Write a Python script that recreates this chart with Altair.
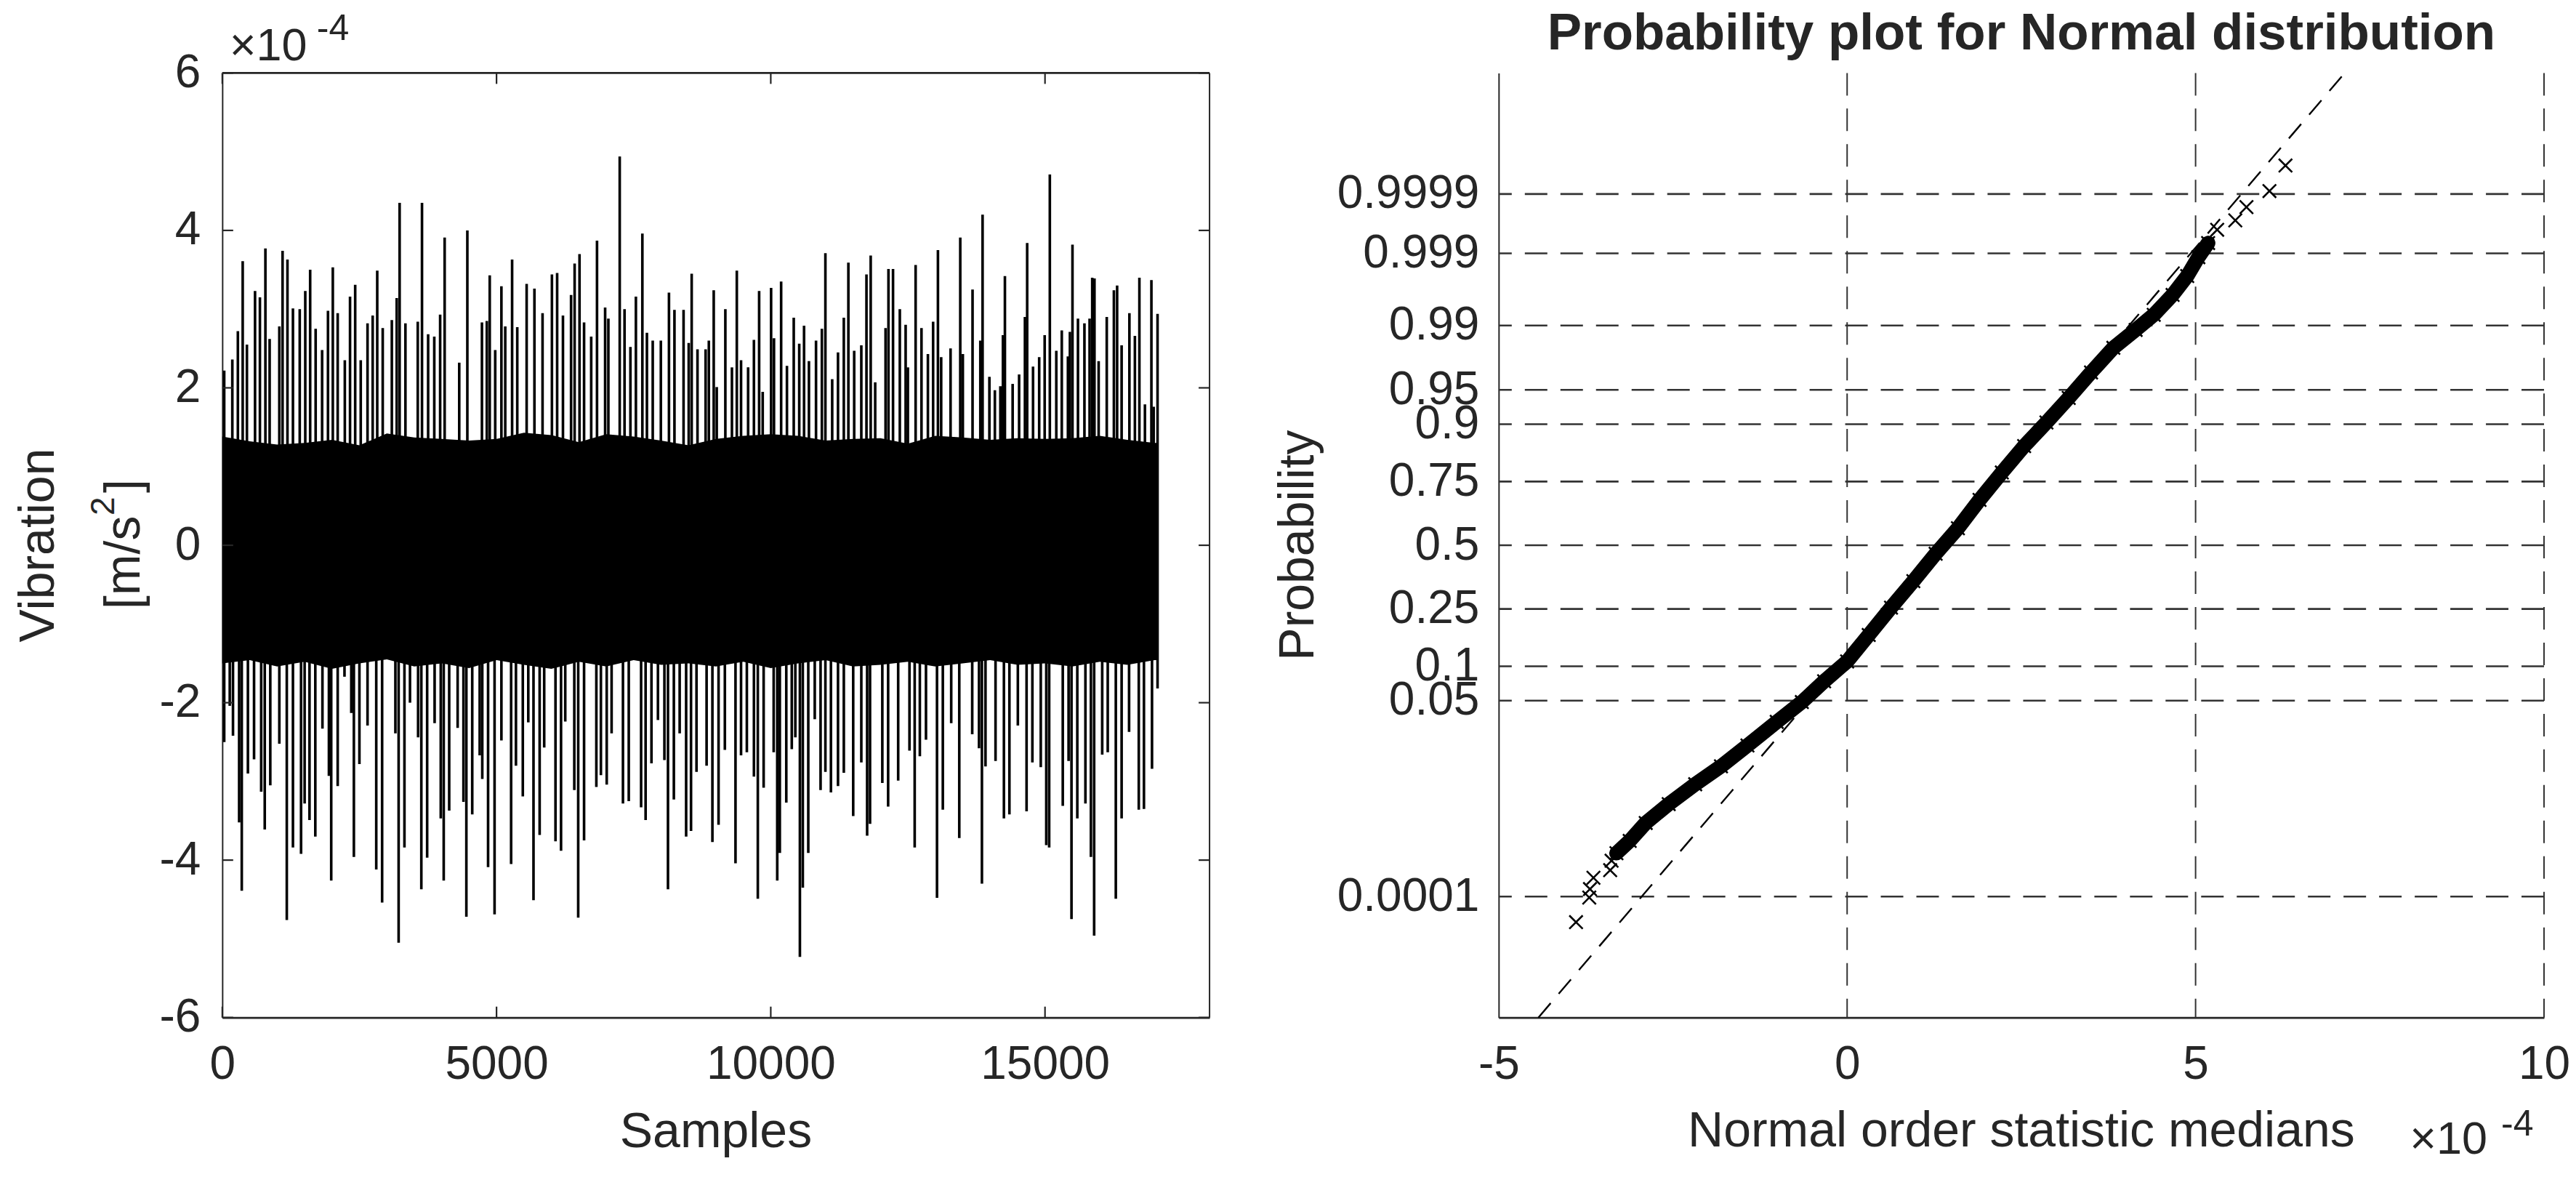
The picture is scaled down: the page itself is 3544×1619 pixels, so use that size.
import altair as alt
import pandas as pd
from statistics import NormalDist

# ---------------- data: left panel (vibration signal, units of 1e-4 m/s^2) ----------------
sig_up_s = [35, 183, 284, 372, 449, 597, 686, 786, 863, 1040,
            1099, 1188, 1288, 1412, 1513, 1602, 1702, 1820, 1927, 2015,
            2104, 2234, 2329, 2423, 2524, 2648, 2742, 2825, 2925, 3091,
            3180, 3233, 3339, 3564, 3641, 3753, 3865, 3972, 4054, 4320,
            4468, 4734, 4823, 4876, 4976, 5089, 5159, 5284, 5378, 5549,
            5691, 5839, 6010, 6105, 6211, 6359, 6424, 6513, 6596, 6726,
            6832, 6980, 7039, 7246, 7334, 7441, 7541, 7659, 7742, 7848,
            7996, 8144, 8244, 8410, 8504, 8558, 8664, 8812, 8871, 8960,
            9172,
            9015, 9292, 9381, 9458, 9587, 9693, 9788, 9853, 10006, 10059,
            10189, 10295, 10419, 10519, 10607, 10696, 10825, 10932, 10996, 11120,
            11226, 11332, 11415, 11521, 11651, 11745, 11822, 11904, 12093, 12146,
            12229, 12353, 12459, 12500, 12641, 12748, 12865, 12960, 13048, 13107,
            13278, 13455, 13502, 13679, 13821, 13862, 13986, 14086, 14186, 14233,
            14269, 14410, 14528, 14634, 14675, 14782, 14894, 14994, 15088, 15206,
            15306, 15418, 15454, 15501, 15601, 15719, 15813, 15861, 15902, 15978,
            16126, 16256, 16315, 16397, 16539, 16639, 16721, 16822, 16940, 16981,
            17052]
sig_up_v = [2.22, 2.36, 2.72, 3.61, 2.55, 3.23, 3.15, 3.77, 2.62, 2.78,
            3.74, 3.63, 3.01, 3.00, 3.23, 3.50, 2.75, 2.48, 2.98, 3.53,
            2.95, 2.35, 3.16, 3.31, 2.35, 2.82, 2.92, 3.49, 2.76, 2.86,
            3.14, 4.35, 2.82, 2.84, 4.35, 2.68, 2.65, 2.93, 3.91, 2.32,
            4.00, 2.83, 2.85, 3.43, 2.48, 3.29, 2.78, 3.63, 2.77, 3.32,
            3.26, 2.95, 3.44, 3.46, 2.92, 3.18, 3.58, 3.70, 2.83, 2.65,
            3.87, 3.02, 2.88, 4.94, 3.00, 2.52, 3.16, 3.96, 2.70, 2.60,
            2.60, 3.21, 2.99, 2.99, 2.57, 3.45, 2.49, 2.49, 2.60, 3.24,
            3.00,
            2.01, 2.26, 3.49, 2.35, 2.26, 2.61, 3.23, 1.95, 3.27, 2.63,
            3.35, 2.28, 2.89, 2.56, 2.79, 2.34, 2.60, 2.75, 3.71, 2.11,
            2.45, 2.89, 3.59, 2.47, 2.54, 3.44, 3.68, 2.07, 2.76, 3.51,
            3.51, 3.00, 2.80, 2.26, 3.56, 2.76, 2.43, 2.84, 3.75, 2.39,
            2.50, 3.91, 2.43, 3.25, 2.60, 4.20, 2.14, 1.97, 2.02, 2.67,
            3.42, 2.05, 2.17, 2.90, 3.84, 2.27, 2.39, 2.67, 4.71, 2.47,
            2.73, 2.40, 2.71, 3.82, 2.88, 2.82, 2.88, 3.40, 3.39, 2.34,
            2.90, 3.24, 3.30, 2.54, 2.95, 2.66, 3.40, 1.79, 3.37, 1.76,
            2.94]
sig_lo_s = [35, 136, 195, 307, 355, 467, 579, 709, 774, 875,
            1040, 1176, 1288, 1436, 1501, 1590, 1696, 1826, 1944, 1986,
            2104, 2228, 2352, 2399, 2500, 2648, 2807, 2914, 3156, 3215,
            3321, 3422, 3570, 3629, 3735, 3871, 3983, 4037, 4137, 4291,
            4397, 4450, 4557, 4693, 4740, 4846, 4964, 5089, 5266, 5354,
            5479, 5579, 5674, 5786, 5869, 6075, 6176, 6253, 6418, 6489,
            6596, 6820, 6903, 7009, 7098, 7305, 7411, 7636, 7718, 7825,
            7943, 8061, 8126, 8233, 8339, 8457, 8546, 8646, 8830, 8936,
            9048,
            9163, 9357, 9458, 9564, 9693, 9764, 9870, 10053, 10118, 10165,
            10283, 10383, 10448, 10531, 10584, 10684, 10802, 10908, 10996, 11097,
            11226, 11332, 11503, 11651, 11757, 11810, 12034, 12140, 12323, 12529,
            12624, 12718, 12830, 13031, 13137, 13290, 13437, 13673, 13797, 13850,
            13915, 14098, 14251, 14351, 14505, 14664, 14770, 14923, 15023, 15076,
            15324, 15430, 15483, 15589, 15737, 15837, 15896, 16043, 16144, 16291,
            16397, 16533, 16710, 16804, 16951, 17052]
sig_lo_v = [-2.50, -2.04, -2.42, -3.52, -4.39, -2.90, -2.72, -3.13, -3.61, -3.05,
            -2.52, -4.76, -3.84, -3.92, -3.28, -3.49, -3.70, -2.33, -2.93, -4.26,
            -3.06, -1.67, -2.13, -3.96, -2.78, -2.29, -4.12, -4.54, -2.39, -5.05,
            -3.84, -2.00, -2.44, -4.37, -3.97, -2.26, -3.47, -4.26, -3.37, -2.32,
            -3.26, -4.72, -3.42, -2.67, -2.97, -4.09, -4.69, -2.48, -4.05, -2.80,
            -3.19, -2.25, -4.51, -3.68, -2.57, -3.76, -3.88, -2.24, -3.11, -4.73,
            -3.75, -3.07, -2.92, -3.04, -2.39, -3.28, -3.25, -3.33, -3.49, -2.77,
            -2.22, -2.73, -4.37, -3.23, -2.39, -3.70, -3.63, -2.88, -2.80, -3.77,
            -3.55,
            -2.60, -4.04, -2.67, -2.63, -2.94, -4.49, -3.08, -2.63, -4.26, -3.91,
            -3.27, -2.59, -2.44, -5.23, -4.35, -3.91, -2.21, -3.11, -2.88, -3.14,
            -3.06, -2.89, -3.44, -2.76, -3.69, -3.54, -3.02, -3.32, -2.99, -2.61,
            -3.84, -2.68, -2.47, -4.48, -3.36, -2.26, -3.72, -2.40, -2.58, -4.30,
            -2.81, -2.74, -3.47, -3.42, -2.29, -3.38, -2.76, -2.82, -3.81, -3.84,
            -3.31, -2.74, -4.75, -3.47, -3.28, -3.96, -4.96, -2.66, -2.63, -4.49,
            -3.47, -2.37, -3.36, -3.35, -2.84, -1.82]
# dense core of the signal (edge of the solid black band), every 500 samples
core_s = [0, 500, 1000, 1500, 2000, 2500, 3000, 3500, 4000, 4500,
          5000, 5500, 6000, 6500, 7000, 7500, 8000, 8500, 9000, 9500,
          10000, 10500, 11000, 11500, 12000, 12500, 13000, 13500, 14000, 14500,
          15000, 15500, 16000, 16500, 17000, 17052]
core_top = [1.38, 1.32, 1.28, 1.30, 1.34, 1.27, 1.42, 1.37, 1.35, 1.33,
            1.35, 1.43, 1.40, 1.31, 1.41, 1.38, 1.33, 1.27, 1.35, 1.39,
            1.41, 1.39, 1.33, 1.35, 1.36, 1.29, 1.39, 1.37, 1.34, 1.36,
            1.35, 1.36, 1.39, 1.34, 1.30, 1.30]
core_bot = [-1.50, -1.46, -1.54, -1.48, -1.57, -1.50, -1.45, -1.54, -1.50, -1.56,
            -1.46, -1.52, -1.57, -1.48, -1.54, -1.46, -1.52, -1.50, -1.54, -1.48,
            -1.56, -1.50, -1.46, -1.54, -1.52, -1.48, -1.54, -1.50, -1.46, -1.52,
            -1.50, -1.54, -1.48, -1.52, -1.46, -1.46]
x_ticks_left = [0, 5000, 10000, 15000]
y_ticks_left = [-6, -4, -2, 0, 2, 4, 6]

# ---------------- data: right panel (normal probability plot) ----------------
prob_ticks = [0.0001, 0.05, 0.1, 0.25, 0.5, 0.75, 0.9, 0.95, 0.99, 0.999, 0.9999]
prob_labels = ["0.0001", "0.05", "0.1", "0.25", "0.5", "0.75", "0.9", "0.95", "0.99", "0.999", "0.9999"]
x_ticks_right = [-5, 0, 5, 10]
grid_x_right = [0, 5, 10]
curve_x = [-3.89, -3.70, -3.69, -3.64, -3.40, -3.38, -3.31, -3.12, -2.89, -2.56,
           -2.18, -1.81, -1.43, -1.01, -0.65, -0.33, 0.00, 0.31, 0.63, 0.95,
           1.27, 1.59, 1.90, 2.22, 2.54, 2.86, 3.18, 3.50, 3.82, 4.14,
           4.40, 4.67, 4.88, 5.04, 5.18, 5.31, 5.57, 5.73, 6.06, 6.29]
curve_z = [-3.99, -3.73, -3.64, -3.52, -3.44, -3.34, -3.26, -3.13, -2.94, -2.74,
           -2.53, -2.34, -2.12, -1.87, -1.66, -1.44, -1.23, -0.95, -0.66, -0.38,
           -0.09, 0.18, 0.48, 0.77, 1.05, 1.30, 1.56, 1.83, 2.09, 2.28,
           2.44, 2.65, 2.85, 3.05, 3.20, 3.34, 3.44, 3.58, 3.75, 4.02]
band_first, band_last = 6, 34
ref_x = [-4.43, 7.14]
ref_z = [-5.0, 5.0]

# ---------------- styling ----------------
W1, W2, H = 1359, 1439, 1300
INK = "#262626"
FONT = "Liberation Sans"
TICK_FS = 64
TITLE_FS = 68

def axis(values, pad, width, label_expr):
    return alt.Axis(values=values, labelExpr=label_expr, title=None, grid=False,
                    ticks=False, tickSize=0, labelPadding=pad, labelFontSize=TICK_FS,
                    labelFont=FONT, labelColor=INK, domainColor=INK, domainWidth=width,
                    labelFlush=False, labelOverlap=False, labelBound=False, labelLimit=0)

# ---------------- left panel ----------------
xs_l = alt.Scale(domain=[0, 18000], nice=False, zero=False)
ys_l = alt.Scale(domain=[-6, 6], nice=False, zero=False)
ax_xl = axis(x_ticks_left, 33, 2.6, "'' + datum.value")
ax_yl = axis(y_ticks_left, 30, 2.0, "'' + datum.value")

def XL(f):
    return alt.X(f, type="quantitative", scale=xs_l, axis=ax_xl)

def YL(f):
    return alt.Y(f, type="quantitative", scale=ys_l, axis=ax_yl)

core_df = pd.DataFrame({"s": core_s, "top": core_top, "bot": core_bot})
spk_df = pd.DataFrame({"s": sig_up_s + sig_lo_s, "v": sig_up_v + sig_lo_v})
spk_df["zero"] = 0.0
one = pd.DataFrame({"k": [0]})

bound_helper = alt.Chart(one).mark_rect(color="white").encode(
    x=alt.value(-298), x2=alt.value(-296), y=alt.value(-92), y2=alt.value(-90))
core = alt.Chart(core_df).mark_area(color="black", interpolate="linear").encode(
    x=XL("s"), y=YL("top"), y2=alt.Y2("bot"))
spikes = alt.Chart(spk_df).mark_rule(color="black", strokeWidth=3.6).encode(
    x=XL("s"), y=YL("v"), y2=alt.Y2("zero"))
top_border = alt.Chart(one).mark_rule(color=INK, strokeWidth=2.6).encode(
    x=alt.value(0), x2=alt.value(W1), y=alt.value(0))
right_border = alt.Chart(one).mark_rule(color=INK, strokeWidth=2.0).encode(
    x=alt.value(W1), y=alt.value(0), y2=alt.value(H))
xt_df = pd.DataFrame({"t": x_ticks_left})
yt_df = pd.DataFrame({"t": y_ticks_left})
ticks_b = alt.Chart(xt_df).mark_rule(color=INK, strokeWidth=2.2).encode(
    x=XL("t"), y=alt.value(H), y2=alt.value(H - 15))
ticks_t = alt.Chart(xt_df).mark_rule(color=INK, strokeWidth=2.2).encode(
    x=XL("t"), y=alt.value(0), y2=alt.value(15))
ticks_l = alt.Chart(yt_df).mark_rule(color=INK, strokeWidth=2.2).encode(
    y=YL("t"), x=alt.value(0), x2=alt.value(15))
ticks_r = alt.Chart(yt_df).mark_rule(color=INK, strokeWidth=2.2).encode(
    y=YL("t"), x=alt.value(W1 - 15), x2=alt.value(W1))

def label(text, x, y, size=TITLE_FS, angle=0, align="center", weight="normal"):
    return alt.Chart(pd.DataFrame({"txt": [text]})).mark_text(
        font=FONT, fontSize=size, color=INK, align=align, baseline="alphabetic",
        angle=angle, fontWeight=weight).encode(
        x=alt.value(x), y=alt.value(y), text="txt:N")

left = alt.layer(
    bound_helper, core, spikes, top_border, right_border,
    ticks_b, ticks_t, ticks_l, ticks_r,
    label("\u00d710", 10, -17, size=63, align="left"),
    label("-4", 130, -45, size=50, align="left"),
    label("Samples", W1 / 2, 1478),
    label("Vibration", -232, H / 2, angle=270),
    label("[m/s", -114, 738, angle=270, align="left"),
    label("2", -149, 609, size=46, angle=270, align="left"),
    label("]", -114, 578, angle=270, align="left"),
).properties(width=W1, height=H)

# ---------------- right panel ----------------
nd = NormalDist()
z_ticks = [round(nd.inv_cdf(p), 6) for p in prob_ticks]
expr = "''"
for z, l in reversed(list(zip(z_ticks, prob_labels))):
    expr = f"abs(datum.value - ({z})) < 0.001 ? '{l}' : " + expr

xs_r = alt.Scale(domain=[-5, 10], nice=False, zero=False)
ys_r = alt.Scale(domain=[-5, 5], nice=False, zero=False)
ax_xr = axis(x_ticks_right, 33, 2.6, "'' + datum.value")
ax_yr = axis(z_ticks, 27, 2.0, expr)

def XR(f):
    return alt.X(f, type="quantitative", scale=xs_r, axis=ax_xr)

def YR(f):
    return alt.Y(f, type="quantitative", scale=ys_r, axis=ax_yr)

hgrid = alt.Chart(pd.DataFrame({"z": z_ticks})).mark_rule(
    color="#333333", strokeWidth=2.6, strokeDash=[31, 18]).encode(y=YR("z"))
vgrid = alt.Chart(pd.DataFrame({"x": grid_x_right})).mark_rule(
    color="#333333", strokeWidth=2.0, strokeDash=[31, 18]).encode(x=XR("x"))
ref = alt.Chart(pd.DataFrame({"x": ref_x, "z": ref_z})).mark_line(
    color="black", strokeWidth=2.4, strokeDash=[26, 17]).encode(x=XR("x"), y=YR("z"))
curve_df = pd.DataFrame({"x": curve_x, "z": curve_z, "i": list(range(len(curve_x)))})
band_df = curve_df.iloc[band_first:band_last + 1]
band = alt.Chart(band_df).mark_line(
    color="black", strokeWidth=20, strokeCap="round", strokeJoin="round").encode(
    x=XR("x"), y=YR("z"), order="i:Q")
crosses = alt.Chart(curve_df).mark_point(
    shape="M -1 -1 L 1 1 M -1 1 L 1 -1", size=340, filled=False, strokeWidth=2.6,
    color="black", opacity=1).encode(x=XR("x"), y=YR("z"))

right = alt.layer(
    hgrid, vgrid, ref, band, crosses,
    label("Probability plot for Normal distribution", W2 / 2, -32, size=71, weight="bold"),
    label("Normal order statistic medians", W2 / 2, 1477),
    label("Probability", -255, H / 2, angle=270),
    label("\u00d710", 1254, 1487, size=63, align="left"),
    label("-4", 1380, 1462, size=50, align="left"),
).properties(width=W2, height=H)

chart = alt.hconcat(left, right, spacing=398, bounds="flush").properties(
    padding=0, background="white"
).configure_view(stroke=None)

chart.save("out.html", embed_options={"renderer": "svg", "actions": False})
